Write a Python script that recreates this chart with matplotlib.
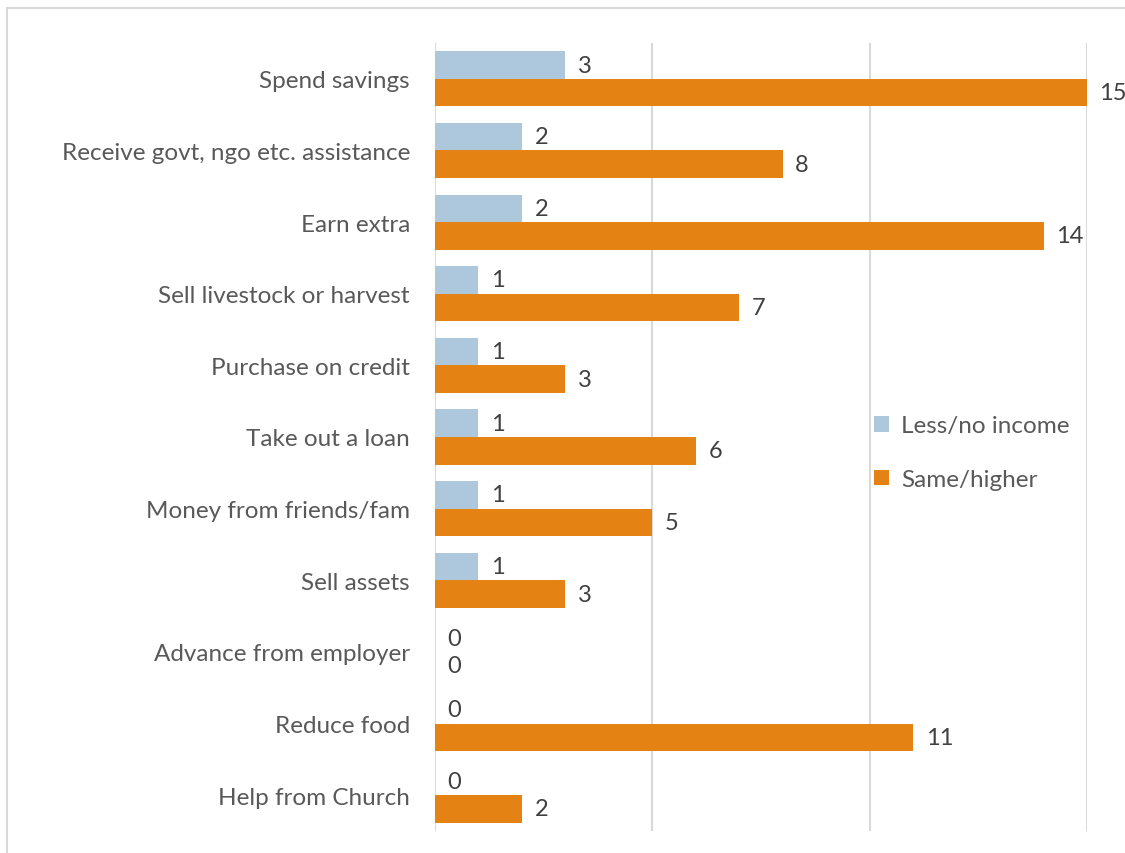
import numpy as np
import matplotlib.pyplot as plt
from matplotlib.patches import Rectangle

plt.rcParams['font.family'] = ['Lato', 'DejaVu Sans']

# coping strategies, listed top to bottom
strategies = ["Spend savings", "Receive govt, ngo etc. assistance", "Earn extra",
              "Sell livestock or harvest", "Purchase on credit", "Take out a loan",
              "Money from friends/fam", "Sell assets", "Advance from employer",
              "Reduce food", "Help from Church"]
less_income = [3, 2, 2, 1, 1, 1, 1, 1, 0, 0, 0]
same_higher = [15, 8, 14, 7, 3, 6, 5, 3, 0, 11, 2]

blue = "#adc7dd"
orange = "#e48313"
text_col = "#595959"

fig = plt.figure(figsize=(11.25, 8.54), dpi=100)
ax = fig.add_axes([435/1125, 1 - 832/854, (1087 - 435)/1125, (832 - 44)/854])

# outer chart border (light grey)
fig.patches.append(Rectangle((7/1125, -0.1), 1.2, 1 - 9/854 + 0.1, transform=fig.transFigure,
                             fill=False, edgecolor="#d9d9d9", linewidth=1.5))

y = np.arange(len(strategies))
h = 0.385
b1 = ax.barh(y - h/2, less_income, height=h, color=blue, label="Less/no income")
b2 = ax.barh(y + h/2, same_higher, height=h, color=orange, label="Same/higher")

for bars, vals in ((b1, less_income), (b2, same_higher)):
    for bar, v in zip(bars, vals):
        ax.annotate(str(v), (v, bar.get_y() + bar.get_height()/2), xytext=(9, 0),
                    textcoords="offset points", va="center", ha="left",
                    fontsize=17, color="#404040")

ax.set_xlim(0, 15)
ax.set_ylim(len(strategies) - 0.5, -0.5)
ax.set_yticks(y)
ax.set_yticklabels(strategies, fontsize=17.5, color=text_col)
ax.tick_params(axis="y", length=0, pad=18)
ax.set_xticks([0, 5, 10, 15])
ax.set_xticklabels([])
ax.tick_params(axis="x", length=0)
ax.grid(axis="x", color="#d9d9d9", linewidth=1.5)
ax.set_axisbelow(True)
for s in ax.spines.values():
    s.set_visible(False)

leg = ax.legend(loc="center left", bbox_to_anchor=(0.64, 0.48), frameon=False,
                fontsize=17.5, labelspacing=1.35, handlelength=0.6, handleheight=0.6,
                handletextpad=0.5, labelcolor=text_col)

fig.savefig("out.png", dpi=100)
